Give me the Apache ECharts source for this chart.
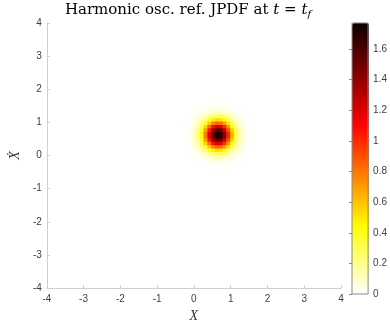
<!DOCTYPE html>
<html>
<head>
<meta charset="utf-8">
<script src="https://cdn.jsdelivr.net/npm/echarts@6/dist/echarts.min.js"></script>
<style>
  html, body { margin: 0; padding: 0; background: #fff; }
  #chart { width: 390px; height: 328px; }
</style>
</head>
<body>
<div id="chart"></div>
<script>
// cell centres (0.1 wide cells) where the density is visibly non-zero
const xCentres = [-0.05, 0.05, 0.15, 0.25, 0.35, 0.45, 0.55, 0.65, 0.75, 0.85, 0.95, 1.05, 1.15, 1.25, 1.35, 1.45, 1.55, 1.65];
const yCentres = [-0.25, -0.15, -0.05, 0.05, 0.15, 0.25, 0.35, 0.45, 0.55, 0.65, 0.75, 0.85, 0.95, 1.05, 1.15, 1.25, 1.35, 1.45, 1.55, 1.65];

// one row per y centre (bottom to top), one column per x centre
const jpdf = [
  [0, 0, 0, 0, 0, 0, 0.01, 0.01, 0.01, 0.01, 0.01, 0, 0, 0, 0, 0, 0, 0],
  [0, 0, 0, 0, 0.01, 0.01, 0.02, 0.02, 0.02, 0.02, 0.02, 0.01, 0.01, 0, 0, 0, 0, 0],
  [0, 0, 0, 0.01, 0.02, 0.03, 0.04, 0.06, 0.06, 0.06, 0.05, 0.04, 0.02, 0.01, 0.01, 0, 0, 0],
  [0, 0, 0.01, 0.02, 0.04, 0.06, 0.10, 0.13, 0.14, 0.14, 0.12, 0.08, 0.05, 0.03, 0.01, 0.01, 0, 0],
  [0, 0.01, 0.02, 0.04, 0.07, 0.13, 0.20, 0.26, 0.29, 0.28, 0.24, 0.17, 0.11, 0.06, 0.03, 0.01, 0, 0],
  [0, 0.01, 0.03, 0.07, 0.14, 0.24, 0.36, 0.47, 0.53, 0.51, 0.43, 0.31, 0.19, 0.10, 0.05, 0.02, 0.01, 0],
  [0.01, 0.02, 0.05, 0.11, 0.22, 0.38, 0.58, 0.75, 0.85, 0.82, 0.69, 0.50, 0.31, 0.17, 0.08, 0.03, 0.01, 0],
  [0.01, 0.02, 0.06, 0.15, 0.31, 0.55, 0.83, 1.08, 1.21, 1.18, 0.99, 0.71, 0.44, 0.24, 0.11, 0.04, 0.02, 0],
  [0.01, 0.03, 0.08, 0.19, 0.39, 0.69, 1.05, 1.37, 1.54, 1.49, 1.25, 0.90, 0.56, 0.30, 0.14, 0.06, 0.02, 0.01],
  [0.01, 0.03, 0.09, 0.22, 0.44, 0.78, 1.18, 1.54, 1.73, 1.68, 1.41, 1.02, 0.63, 0.34, 0.16, 0.06, 0.02, 0.01],
  [0.01, 0.03, 0.09, 0.22, 0.44, 0.78, 1.18, 1.54, 1.73, 1.68, 1.41, 1.02, 0.63, 0.34, 0.16, 0.06, 0.02, 0.01],
  [0.01, 0.03, 0.08, 0.19, 0.39, 0.69, 1.05, 1.37, 1.54, 1.49, 1.25, 0.90, 0.56, 0.30, 0.14, 0.06, 0.02, 0.01],
  [0.01, 0.02, 0.06, 0.15, 0.31, 0.55, 0.83, 1.08, 1.21, 1.18, 0.99, 0.71, 0.44, 0.24, 0.11, 0.04, 0.02, 0],
  [0.01, 0.02, 0.05, 0.11, 0.22, 0.38, 0.58, 0.75, 0.85, 0.82, 0.69, 0.50, 0.31, 0.17, 0.08, 0.03, 0.01, 0],
  [0, 0.01, 0.03, 0.07, 0.14, 0.24, 0.36, 0.47, 0.53, 0.51, 0.43, 0.31, 0.19, 0.10, 0.05, 0.02, 0.01, 0],
  [0, 0.01, 0.02, 0.04, 0.07, 0.13, 0.20, 0.26, 0.29, 0.28, 0.24, 0.17, 0.11, 0.06, 0.03, 0.01, 0, 0],
  [0, 0, 0.01, 0.02, 0.04, 0.06, 0.10, 0.13, 0.14, 0.14, 0.12, 0.08, 0.05, 0.03, 0.01, 0.01, 0, 0],
  [0, 0, 0, 0.01, 0.02, 0.03, 0.04, 0.06, 0.06, 0.06, 0.05, 0.04, 0.02, 0.01, 0.01, 0, 0, 0],
  [0, 0, 0, 0, 0.01, 0.01, 0.02, 0.02, 0.02, 0.02, 0.02, 0.01, 0.01, 0, 0, 0, 0, 0],
  [0, 0, 0, 0, 0, 0, 0.01, 0.01, 0.01, 0.01, 0.01, 0, 0, 0, 0, 0, 0, 0]
];

const axisRange = [-4, 4];
const pdfMax = 1.77;
const cbarStep = 0.2;

// flipped "hot" colormap, evenly spaced stops
const hotFlip = ['#ffffff', '#ffff80', '#ffff00', '#ffaa00', '#ff5500', '#ff0000', '#ad0000', '#5c0000', '#0b0000'];

const labelColor = '#404040';
const axisColor = '#cfcfcf';
const sans = 'Liberation Sans';
const serif = 'DejaVu Serif';

// hidden category axis: 80 cells of 0.1 covering [-4, 4]
const cellNames = [];
for (let k = 0; k < 80; k++) cellNames.push((axisRange[0] + 0.05 + 0.1 * k).toFixed(2));
const cellIndex = v => Math.round((v - axisRange[0] - 0.05) * 10);

const cells = [];
jpdf.forEach((row, j) => {
  row.forEach((v, i) => {
    cells.push([cellIndex(xCentres[i]), cellIndex(yCentres[j]), v]);
  });
});

const plotBox = { left: 36, right: 49, top: 23, bottom: 34 };

const chart = echarts.init(document.getElementById('chart'), null, { renderer: 'canvas' });

chart.setOption({
  animation: false,
  backgroundColor: '#fff',
  textStyle: { fontFamily: sans },
  title: {
    text: '{n|Harmonic osc. ref. JPDF at }{i|t}{n| = }{i|t}{s|f}',
    left: 188,
    textAlign: 'center',
    top: 0,
    padding: [2, 0, 0, 0],
    textStyle: {
      fontWeight: 'normal',
      rich: {
        n: { fontFamily: serif, fontSize: 15, fontWeight: 'normal', color: '#000' },
        i: { fontFamily: serif, fontSize: 15, fontWeight: 'normal', fontStyle: 'italic', color: '#000' },
        s: { fontFamily: serif, fontSize: 10, fontWeight: 'normal', fontStyle: 'italic', color: '#000', padding: [7, 0, 0, 0] }
      }
    }
  },
  grid: [
    Object.assign({ containLabel: false }, plotBox),
    Object.assign({ containLabel: false }, plotBox),
    { left: 352, top: 23, width: 17, height: 271, show: true, borderColor: '#8a8a8a', borderWidth: 1, backgroundColor: 'transparent', z: 10 }
  ],
  xAxis: [
    {
      type: 'value', gridIndex: 0, min: axisRange[0], max: axisRange[1], interval: 1,
      name: 'X', nameLocation: 'middle', nameGap: 16,
      nameTextStyle: { fontFamily: 'Liberation Serif', fontStyle: 'italic', fontSize: 14, color: '#333' },
      axisLine: { show: true, onZero: false, lineStyle: { color: axisColor, width: 1 } },
      axisTick: { show: true, inside: true, length: 3, lineStyle: { color: axisColor } },
      axisLabel: { color: labelColor, fontSize: 10, margin: 6, fontFamily: sans },
      splitLine: { show: false }
    },
    { type: 'category', gridIndex: 1, data: cellNames, show: false },
    { type: 'value', gridIndex: 2, min: 0, max: 1, show: false }
  ],
  yAxis: [
    {
      type: 'value', gridIndex: 0, min: axisRange[0], max: axisRange[1], interval: 1,
      name: '\u1E8A', nameLocation: 'middle', nameGap: 24, nameRotate: 90,
      nameTextStyle: { fontFamily: 'Liberation Serif', fontStyle: 'italic', fontSize: 14, color: '#333' },
      axisLine: { show: true, onZero: false, lineStyle: { color: axisColor, width: 1 } },
      axisTick: { show: true, inside: true, length: 3, lineStyle: { color: axisColor } },
      axisLabel: { color: labelColor, fontSize: 10, margin: 5, fontFamily: sans },
      splitLine: { show: false }
    },
    { type: 'category', gridIndex: 1, data: cellNames, show: false },
    {
      type: 'value', gridIndex: 2, min: 0, max: pdfMax, interval: cbarStep, position: 'right', z: 10,
      axisLine: { show: false },
      axisTick: { show: true, inside: true, length: 3, lineStyle: { color: '#8a8a8a' } },
      axisLabel: { color: labelColor, fontSize: 10, margin: 5, fontFamily: sans, showMaxLabel: false },
      splitLine: { show: false }
    }
  ],
  visualMap: {
    type: 'continuous',
    seriesIndex: 0,
    min: 0,
    max: pdfMax,
    orient: 'vertical',
    left: 352,
    top: 23,
    itemWidth: 17,
    itemHeight: 271,
    padding: 0,
    calculable: false,
    hoverLink: false,
    inRange: { color: hotFlip }
  },
  series: [
    {
      type: 'heatmap',
      xAxisIndex: 1,
      yAxisIndex: 1,
      data: cells,
      silent: true,
      progressive: 0,
      emphasis: { disabled: true }
    }
  ]
});
</script>
</body>
</html>
